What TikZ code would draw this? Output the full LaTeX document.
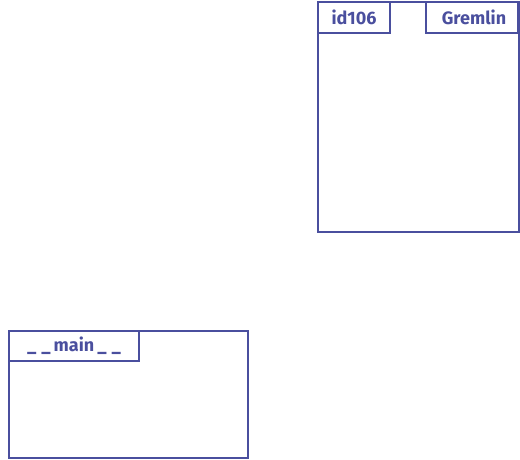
\documentclass[tikz,border=0pt]{standalone}
\usepackage{fontspec}
\setmainfont{Fira Sans}
\definecolor{ink}{HTML}{4A4F9E}
\begin{document}
\begin{tikzpicture}[x=1pt,y=-1pt,
  frame/.style={draw=ink,line width=2pt,anchor=north west,inner sep=0pt,outer sep=0pt},
  tab/.style={frame,text=ink,font=\fontsize{18}{18}\selectfont\bfseries}]
\useasboundingbox (0,0) rectangle (520,460);
\node[frame,minimum width=201pt,minimum height=230pt] (gbox) at (318,2) {};
\node[tab,minimum width=72pt,minimum height=31pt] (gid) at (318,2) {id106};
\node[tab,minimum width=92pt,minimum height=31pt] (gname) at (426,2) {\hspace{4pt}Gremlin};
\node[frame,minimum width=239pt,minimum height=127pt] (mbox) at (9,331) {};
\node[tab,minimum width=130pt,minimum height=30pt] (mname) at (9,331) {\_\kern5pt\_\kern3pt main\kern3pt\_\kern5pt\_};
\end{tikzpicture}
\end{document}
